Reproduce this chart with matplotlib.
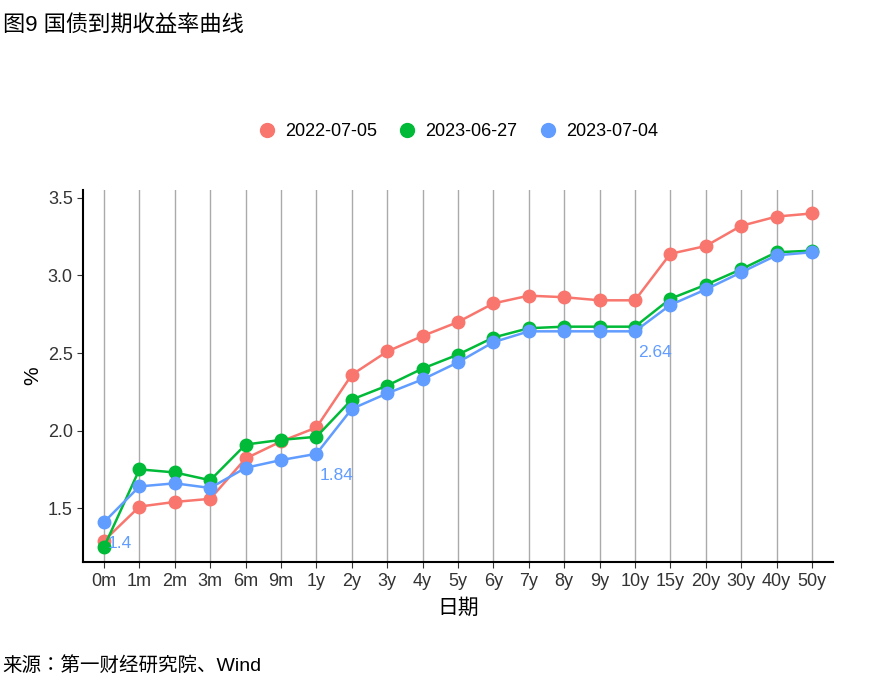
import matplotlib
matplotlib.use("Agg")
import matplotlib.pyplot as plt
from matplotlib import font_manager
from matplotlib.lines import Line2D

names = {f.name for f in font_manager.fontManager.ttflist}
cjk = [n for n in ["Noto Sans CJK SC","Noto Sans CJK JP","Noto Sans CJK TC","Noto Sans CJK KR"] if n in names]
plt.rcParams["font.family"] = ["Liberation Sans"] + cjk + ["DejaVu Sans"]

categories = ["0m","1m","2m","3m","6m","9m","1y","2y","3y","4y","5y","6y","7y","8y","9y","10y","15y","20y","30y","40y","50y"]
s2022 = [1.29,1.51,1.54,1.56,1.82,1.93,2.02,2.36,2.51,2.61,2.70,2.82,2.87,2.86,2.84,2.84,3.14,3.19,3.32,3.38,3.40]
s0627 = [1.25,1.75,1.73,1.68,1.91,1.94,1.96,2.20,2.29,2.40,2.49,2.60,2.66,2.67,2.67,2.67,2.85,2.94,3.04,3.15,3.16]
s0704 = [1.41,1.64,1.66,1.63,1.76,1.81,1.85,2.14,2.24,2.33,2.44,2.57,2.64,2.64,2.64,2.64,2.81,2.91,3.02,3.13,3.15]
labels = ["2022-07-05","2023-06-27","2023-07-04"]
colors = ["#F8766D","#00BA38","#619CFF"]
annots = [(0,"1.4"),(6,"1.84"),(15,"2.64")]

fig = plt.figure(figsize=(8.85,6.88), dpi=100)
ax = fig.add_axes([0.094,0.183,0.847,0.541])
x = list(range(len(categories)))
for s,l,c in zip([s2022,s0627,s0704],labels,colors):
    ax.plot(x,s,color=c,lw=1.8,marker="o",ms=9,label=l)
for i,t in annots:
    ax.text(i+0.1, s0704[i]-0.09, t, color=colors[2], fontsize=12.5, ha="left", va="top")
ax.set_xlim(-0.59,20.59)
ax.set_ylim(1.152,3.552)
ax.set_xticks(x)
ax.set_xticklabels(categories)
ax.set_yticks([1.5,2.0,2.5,3.0,3.5])
ax.set_yticklabels(["1.5","2.0","2.5","3.0","3.5"])
ax.grid(axis="x",color="#AAAAAA",lw=1)
ax.set_axisbelow(True)
for sp in ["top","right"]:
    ax.spines[sp].set_visible(False)
for sp in ["left","bottom"]:
    ax.spines[sp].set_linewidth(1.5)
ax.tick_params(labelsize=13, colors="#333333", length=4)
ax.set_xlabel("日期", fontsize=15, labelpad=6)
ax.set_ylabel("%", fontsize=15)
handles = [Line2D([],[],ls="none",marker="o",ms=10,color=c) for c in colors]
ax.legend(handles, labels, loc="lower center", bbox_to_anchor=(0.5,1.09), ncol=3, frameon=False,
          fontsize=13, handlelength=1.0, columnspacing=1.2, handletextpad=0.5)
fig.text(0.003,0.955,"图9 国债到期收益率曲线",fontsize=16)
fig.text(0.003,0.025,"来源：第一财经研究院、Wind",fontsize=14)
fig.savefig("out.png")
